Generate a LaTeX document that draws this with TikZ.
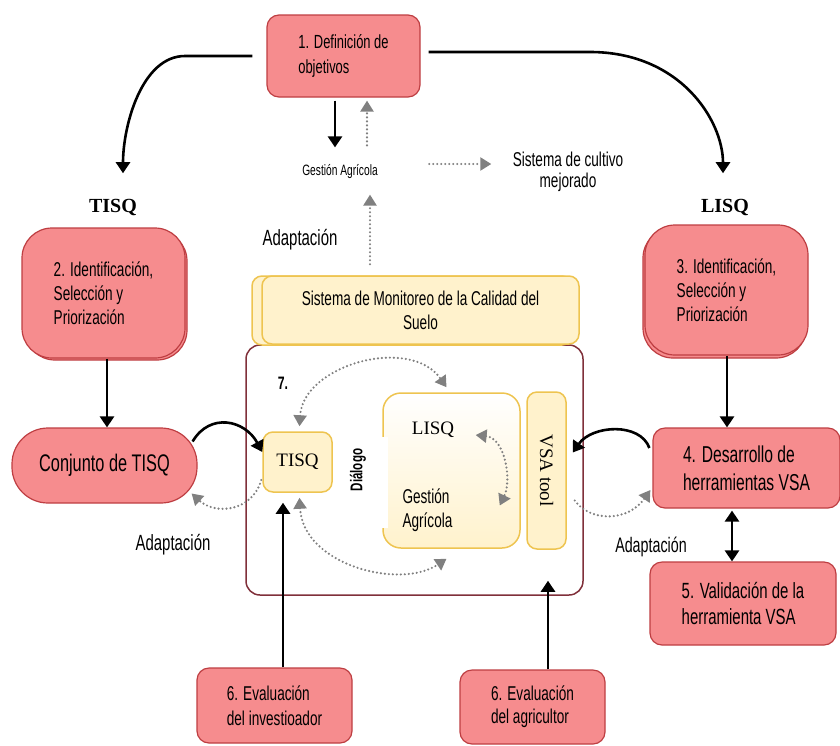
\documentclass[tikz,border=0pt]{standalone}
\usepackage{fontspec}
\setmainfont{Liberation Sans}[FakeStretch=0.68]
\newfontfamily\serifl{Liberation Serif}
\usetikzlibrary{arrows.meta,calc}
\definecolor{boxpink}{RGB}{246,140,142}
\definecolor{boxedge}{RGB}{190,62,66}
\definecolor{ylwfill}{RGB}{255,242,204}
\definecolor{ylwedge}{RGB}{238,196,80}
\definecolor{framered}{RGB}{128,48,58}
\definecolor{dotgray}{RGB}{128,128,128}
\newcommand\fsz[2]{\fontsize{#1}{#2}\selectfont}
\tikzset{
  pinkbox/.style={draw=boxedge, fill=boxpink, line width=1.2pt, rounded corners=12pt, align=left, inner sep=0pt},
  ylwbox/.style={draw=ylwedge, fill=ylwfill, line width=1.5pt, rounded corners=10pt, inner sep=0pt},
  blk/.style={line width=2.6pt, -{Triangle[width=14pt,length=11pt]}},
  blkboth/.style={line width=2.6pt, {Triangle[width=14pt,length=11pt]}-{Triangle[width=14pt,length=11pt]}},
  dotarr/.style={dotgray, line width=2.4pt, dash pattern=on 0pt off 4pt, line cap=round, -{Triangle[width=13pt,length=11pt]}},
  dotboth/.style={dotarr, {Triangle[width=13pt,length=11pt]}-{Triangle[width=13pt,length=11pt]}},
}

\begin{document}
\begin{tikzpicture}[x=1pt,y=-1pt]
	\useasboundingbox (0,0) rectangle (840,745);
	%%%%% START %%%%%
	
	% objetivos y gestion
	\node[pinkbox, minimum width=153pt, minimum height=82pt, font=\fsz{19}{25}] (obj) at (343.5,56) {1. Definición de\\objetivos};
	\node[font=\fsz{15}{18}] (gest) at (340,172) {Gestión Agrícola};
	\node[align=center, font=\fsz{20}{21}] (mejor) at (568,172) {Sistema de cultivo\\mejorado};
	\node[font=\serifl\bfseries\fsz{20}{24}] (tisqlbl) at (113,207) {TISQ};
	\node[font=\serifl\bfseries\fsz{20}{24}] (lisqlbl) at (725,207) {LISQ};
	\node[font=\fsz{22}{24}] (adtop) at (300,240) {Adaptación};
	
	\draw[blk, shorten <=14pt, shorten >=22pt] (obj.west) -- (185,56) .. controls (142,56) and ($(tisqlbl.north)+(10,-70)$) .. ($(tisqlbl.north)+(10,0)$);
	\draw[blk, shorten <=8pt, shorten >=22pt] ($(obj.east)+(0,-4)$) -- (590,52) .. controls (680,52) and ($(lisqlbl.north)+(-2,-75)$) .. ($(lisqlbl.north)+(-2,0)$);
	\draw[blk] ($(obj.south)+(-8.5,3)$) -- ($(gest.north)+(-5,-14)$);
	\draw[dotarr] ($(gest.north)+(27,-16)$) -- ($(obj.south)+(23.5,3)$);
	\draw[dotarr, shorten <=48pt, shorten >=18pt] ($(gest.east)+(0,-8)$) -- ($(mejor.west)+(0,-8)$);
	
	% TISQ / LISQ
	\draw[pinkbox, rounded corners=30pt] (25,231) rectangle (187,360);
	\node[pinkbox, rounded corners=30pt, minimum width=163pt, minimum height=130pt, font=\fsz{20}{24}] (identT) at (103.5,293) {2. Identificación,\\Selección y\\Priorización};
	\draw[pinkbox, rounded corners=30pt] (643,228) rectangle (806,358);
	\node[pinkbox, rounded corners=30pt, minimum width=163pt, minimum height=130pt, font=\fsz{20}{24}] (identL) at (726.5,290) {3. Identificación,\\Selección y\\Priorización};
	
	\node[pinkbox, rounded corners=36pt, minimum width=185pt, minimum height=75pt, font=\fsz{24}{26}] (conj) at (104.5,465.5) {Conjunto de TISQ};
	\node[pinkbox, minimum width=187pt, minimum height=80pt, font=\fsz{23}{28}] (devel) at (746.5,468) {4. Desarrollo de\\herramientas VSA};
	\node[pinkbox, minimum width=186pt, minimum height=83pt, font=\fsz{22}{26}] (valid) at (743,603.5) {5. Validación de la\\herramienta VSA};
	
	\draw[blk] ($(identT.south)+(3.5,0)$) -- ($(conj.north)+(2.5,0)$);
	\draw[blk] ($(identL.south)+(0.5,0)$) -- ($(devel.north)+(-19.5,0)$);
	\draw[blkboth] ($(devel.south)+(-14.5,2)$) -- ($(valid.north)+(-11,0)$);
	
	% sistema de monitoreo
	\node[draw=framered, line width=1.5pt, rounded corners=14pt, minimum width=337pt, minimum height=250pt] (frame) at (414.5,470) {};
	\draw[ylwbox] (252,276) rectangle (572,345);
	\node[ylwbox, minimum width=317pt, minimum height=68pt, align=center, font=\fsz{20}{24}] (sms) at (420.5,310) {Sistema de Monitoreo de la Calidad del\\Suelo};
	\draw[dotarr] ($(sms.north)+(-50.5,-11)$) -- ($(gest.south)+(30,12)$);
	
	\node[font=\bfseries\fsz{18}{20}] (seven) at (283,383) {7.};
	\node[ylwbox, minimum width=69pt, minimum height=60pt, font=\serifl\fsz{19}{22}] (itisq) at (297.5,462) {TISQ};
	\node[rotate=90, font=\bfseries\fsz{17}{20}] (dialog) at (358,470) {Diálogo};
	\node[draw=ylwedge, line width=1.5pt, rounded corners=18pt, top color=white, bottom color=ylwfill, minimum width=137pt, minimum height=155pt] (lisqbox) at (451.5,470.5) {};
	\fill[white] (380,437) rectangle (388,528);
	\node[font=\serifl\fsz{19}{22}] (ilisq) at (433,430) {LISQ};
	\node[align=left, anchor=west, font=\fsz{20}{24}] (igest) at (399,510) {Gestión\\Agrícola};
	\node[ylwbox, minimum width=39pt, minimum height=157pt] (vsa) at (546.5,470.5) {};
	\node[rotate=-90, font=\serifl\fsz{19}{22}] (vsatxt) at (vsa) {VSA tool};
	
	\draw[dotboth] ($(itisq.north)+(2,-5)$) .. controls (303,365) and (410,335) .. ($(lisqbox.north)+(-5,-5)$);
	\draw[dotboth] ($(itisq.south)+(2,5)$) .. controls (303,565) and (400,590) .. ($(lisqbox.south)+(-5,10)$);
	\draw[dotboth] ($(ilisq.east)+(18,5)$) .. controls (505,438) and (512,480) .. ($(lisqbox.east)+(-21,35)$);
	
	% adaptacion
	\node[font=\fsz{22}{24}] (adleft) at (173,545) {Adaptación};
	\node[font=\fsz{21}{24}] (adright) at (651,547) {Adaptación};
	\draw[blk] ($(conj.east)+(-5,-24)$) .. controls (210,412) and (245,420) .. ($(itisq.west)+(0,-10)$);
	\draw[blk] ($(devel.west)+(-3,-20)$) .. controls (640,422) and (592,425) .. ($(vsa.east)+(6,-18)$);
	\draw[dotarr] ($(itisq.west)+(-1,18)$) .. controls (252,512) and (215,515) .. ($(conj.east)+(-6,28)$);
	\draw[dotarr] ($(vsa.east)+(8,30)$) .. controls (590,522) and (628,522) .. ($(devel.west)+(-2,22)$);
	
	% evaluaciones
	\node[pinkbox, minimum width=155pt, minimum height=75pt, font=\fsz{20}{25}] (evinv) at (274.5,705.5) {6. Evaluación\\del investioador};
	\node[pinkbox, minimum width=145pt, minimum height=74pt, font=\fsz{20}{23}] (evagr) at (532.5,707) {6. Evaluación\\del agricultor};
	\draw[blk] ($(evinv.north)+(8.5,0)$) -- ($(itisq.south)+(-14.5,10)$);
	\draw[blk] ($(evagr.north)+(15.5,0)$) -- ($(frame.south)+(133.5,-15)$);
	
	%%%%% END %%%%%
\end{tikzpicture}
\end{document}
